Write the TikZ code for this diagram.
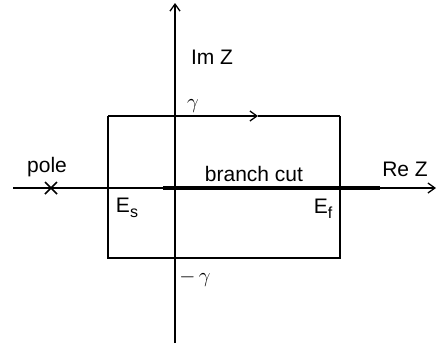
\documentclass[tikz,border=0pt]{standalone}
\usepackage{fontspec}
\setmainfont{Liberation Sans}
\usetikzlibrary{arrows.meta}
\tikzset{
  axisline/.style={line width=1.6pt, -{Straight Barb[length=7pt,width=10pt,line width=1.3pt]}},
  edge/.style={line width=1.7pt},
  cutline/.style={line width=3.5pt},
  lbl/.style={inner sep=0pt, font=\fontsize{21}{21}\selectfont},
  glbl/.style={inner sep=0pt, font=\fontsize{21}{21}\selectfont}
}
\begin{document}
\begin{tikzpicture}[x=1pt,y=-1pt]
\useasboundingbox (0,0) rectangle (438,349);
% axes
\coordinate (xl) at (13,188);
\coordinate (xr) at (436,188);
\coordinate (yb) at (175,343);
\coordinate (yt) at (175,3);
\draw[axisline] (xl) -- (xr);
\draw[axisline] (yb) -- (yt);
% rectangle contour
\coordinate (tl) at (108,116);
\coordinate (tr) at (340,116);
\coordinate (br) at (340,258);
\coordinate (bl) at (108,258);
\coordinate (ta) at (258,116);
\draw[edge] (tr) -- (br) -- (bl) -- (tl);
\draw[edge,-{Straight Barb[length=7pt,width=10pt,line width=1.3pt]}] (tl) -- (ta);
\draw[edge] (ta) -- (tr);
% branch cut
\coordinate (c1) at (163,188);
\coordinate (c2) at (380,188);
\draw[cutline] (c1) -- (c2);
% pole
\coordinate (p) at (51,188);
\draw[line width=1.5pt] ([shift={(-6,-6)}]p) -- ([shift={(6,6)}]p);
\draw[line width=1.5pt] ([shift={(-6,6)}]p) -- ([shift={(6,-6)}]p);
% labels
\node[lbl] (pole) at (47,167) {pole};
\node[lbl] (imz) at (212,57) {Im Z};
\node[lbl] (rez) at (405,169) {Re Z};
\node[lbl] (bc) at (254,174) {branch cut};
\node[lbl] (es) at (127,208) {E\raisebox{-5pt}{\fontsize{16}{16}\selectfont s}};
\node[lbl] (ef) at (323,209) {E\raisebox{-5pt}{\fontsize{16}{16}\selectfont f}};
\node[glbl] (g) at (193,106) {$\gamma$};
\node[glbl] (mg) at (195,278) {$-\,\gamma$};
\end{tikzpicture}
\end{document}
